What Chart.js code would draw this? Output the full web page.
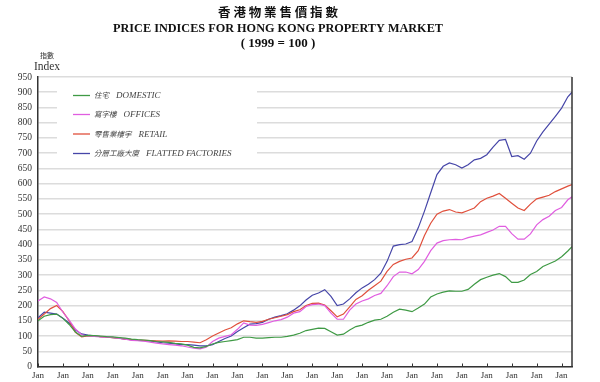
<!DOCTYPE html>
<html><head><meta charset="utf-8">
<script src="https://cdn.jsdelivr.net/npm/chart.js@4/dist/chart.umd.min.js"></script>
<style>html,body{margin:0;padding:0;background:#fff;}canvas{display:block;}</style>
</head><body>
<canvas id="c" width="600" height="382"></canvas>
<script>
// Quarterly reading points (YYYY-MM), Jan 1997 .. Jun 2018
const periods = [
"1997-01","1997-04","1997-07","1997-10","1998-01","1998-04","1998-07","1998-10",
"1999-01","1999-04","1999-07","1999-10","2000-01","2000-04","2000-07","2000-10",
"2001-01","2001-04","2001-07","2001-10","2002-01","2002-04","2002-07","2002-10",
"2003-01","2003-04","2003-07","2003-10","2004-01","2004-04","2004-07","2004-10",
"2005-01","2005-04","2005-07","2005-10","2006-01","2006-04","2006-07","2006-10",
"2007-01","2007-04","2007-07","2007-10","2008-01","2008-04","2008-07","2008-10",
"2009-01","2009-04","2009-07","2009-10","2010-01","2010-04","2010-07","2010-10",
"2011-01","2011-04","2011-07","2011-10","2012-01","2012-04","2012-07","2012-10",
"2013-01","2013-04","2013-07","2013-10","2014-01","2014-04","2014-07","2014-10",
"2015-01","2015-04","2015-07","2015-10","2016-01","2016-04","2016-07","2016-10",
"2017-01","2017-04","2017-07","2017-10","2018-01","2018-04","2018-06"];

const domestic = [
150,165,170,172, 158,138,113,99, 102,101,100,98, 97,95,93,90,
88,87,85,82, 81,79,76,74, 70,63,61,66, 74,79,82,85,
88,96,96,93, 93,95,96,96, 99,103,109,118, 122,126,125,114,
103,106,120,131, 136,145,152,155, 165,178,188,185, 180,192,205,228,
238,244,248,247, 247,253,270,285, 293,300,305,295, 276,276,284,302,
312,328,337,346, 360,379,393];

const offices = [
215,228,222,210, 178,152,123,104, 100,99,97,96, 96,92,90,86,
85,83,80,77, 74,72,70,68, 64,60,58,63, 82,93,99,104,
122,143,136,135, 138,144,150,154, 162,175,180,197, 203,205,200,175,
155,155,185,205, 215,222,233,240, 265,295,310,310, 304,318,345,380,
405,413,416,417, 416,423,428,432, 440,448,460,460, 436,418,418,435,
465,482,493,512, 522,547,557];

const retail = [
155,172,190,200, 180,150,112,97, 100,100,98,96, 95,93,90,88,
87,86,85,84, 83,84,83,82, 82,80,78,88, 100,110,120,127,
140,150,147,145, 148,155,160,165, 170,180,186,200, 207,208,202,183,
163,172,196,220, 232,250,265,280, 312,335,345,352, 356,380,430,470,
500,510,515,507, 504,512,520,541, 552,559,568,552, 536,520,512,533,
550,556,562,574, 583,592,597];

const factories = [
160,178,175,172, 158,143,120,107, 103,101,98,97, 95,93,90,88,
86,85,84,81, 78,77,74,72, 72,70,68,68, 72,82,92,100,
115,127,139,141, 145,155,162,167, 173,185,199,218, 234,241,252,230,
200,205,222,242, 258,270,285,306, 345,395,400,402, 410,455,510,570,
630,657,668,662, 651,662,678,683, 695,720,742,745, 689,692,680,700,
740,770,795,821, 848,885,900];

const seriesZh = ["住宅", "寫字樓", "零售業樓宇", "分層工廠大廈"];
const seriesEn = ["DOMESTIC", "OFFICES", "RETAIL", "FLATTED FACTORIES"];
const seriesColors = ["#3f9a45", "#e05ee0", "#e0503c", "#4646a8"];
const xTickLabel = "Jan";
const titleZh = "香 港 物 業 售 價 指 數";
const titleEn = "PRICE INDICES FOR HONG KONG PROPERTY MARKET";
const titleBase = "( 1999 = 100 )";
const axisZh = "指數";
const axisEn = "Index";

function monthIndex(p) {
  const [y, m] = p.split("-").map(Number);
  return (y - 1997) * 12 + (m - 1);
}
function toPoints(vals) {
  return vals.map((v, i) => ({ x: monthIndex(periods[i]), y: v }));
}
const allSeries = [domestic, offices, retail, factories];

const SERIF = "'Liberation Serif', 'Times New Roman', serif";
const CJK = "'Noto Sans CJK TC', 'Noto Sans CJK SC', sans-serif";

const decor = {
  id: "decor",
  beforeDraw(chart) {
    const ctx = chart.ctx;
    ctx.save();
    ctx.fillStyle = "#fff";
    ctx.fillRect(0, 0, chart.width, chart.height);
    ctx.restore();
  },
  beforeDatasetsDraw(chart) {
    const ctx = chart.ctx;
    const a = chart.chartArea;
    ctx.save();
    ctx.fillStyle = "#fff";
    ctx.fillRect(57, a.top + 2, 200, 84);
    const ys = [95.5, 114.5, 134, 153.5];
    chart.data.datasets.forEach((ds, i) => {
      const y = ys[i];
      ctx.strokeStyle = ds.borderColor;
      ctx.lineWidth = 1.3;
      ctx.beginPath();
      ctx.moveTo(73, y);
      ctx.lineTo(90, y);
      ctx.stroke();
      ctx.fillStyle = "#444";
      ctx.textBaseline = "middle";
      ctx.textAlign = "left";
      ctx.font = "italic 7.5px " + CJK;
      ctx.fillText(seriesZh[i], 94, y);
      const w = ctx.measureText(seriesZh[i]).width;
      ctx.font = "italic 9px " + SERIF;
      ctx.fillText(seriesEn[i], 94 + w + 7, y + 0.5);
    });
    ctx.restore();
  },
  afterDraw(chart) {
    const ctx = chart.ctx;
    const a = chart.chartArea;
    const xs = chart.scales.x;
    ctx.save();
    ctx.strokeStyle = "#333";
    ctx.lineWidth = 1.5;
    ctx.beginPath();
    ctx.moveTo(a.right, a.top);
    ctx.lineTo(a.right, a.bottom);
    ctx.stroke();
    ctx.lineWidth = 1;
    xs.ticks.forEach(t => {
      const px = Math.round(xs.getPixelForValue(t.value)) + 0.5;
      ctx.beginPath();
      ctx.moveTo(px, a.bottom);
      ctx.lineTo(px, a.bottom - 3);
      ctx.stroke();
    });
    ctx.fillStyle = "#111";
    ctx.textAlign = "center";
    ctx.textBaseline = "middle";
    ctx.font = "bold 12.5px " + CJK;
    ctx.fillText(titleZh, 278, 12.5);
    ctx.font = "bold 13px " + SERIF;
    let w = ctx.measureText(titleEn).width;
    const fs = 13 * 330 / w;
    ctx.font = "bold " + fs.toFixed(2) + "px " + SERIF;
    ctx.fillText(titleEn, 278, 28.5);
    ctx.font = "bold 13px " + SERIF;
    ctx.fillText(titleBase, 278, 44);
    ctx.fillStyle = "#333";
    ctx.font = "7px " + CJK;
    ctx.fillText(axisZh, 47, 55);
    ctx.font = "11.5px " + SERIF;
    ctx.fillText(axisEn, 47, 67);
    ctx.restore();
  }
};

new Chart(document.getElementById("c"), {
  type: "line",
  data: {
    datasets: allSeries.map((vals, i) => ({
      label: seriesZh[i] + " " + seriesEn[i],
      data: toPoints(vals),
      borderColor: seriesColors[i],
      borderWidth: 1.2,
      pointRadius: 0,
      tension: 0,
      fill: false
    }))
  },
  options: {
    responsive: false,
    animation: false,
    devicePixelRatio: 1,
    layout: { padding: { top: 77, right: 28, left: 0, bottom: 0 } },
    plugins: { legend: { display: false }, tooltip: { enabled: false }, title: { display: false } },
    scales: {
      x: {
        type: "linear",
        min: 0,
        max: 257,
        afterFit(s) { s.height = 15.5; },
        grid: { display: false, drawTicks: false, tickLength: 0 },
        border: { display: true, color: "#333", width: 1.5 },
        ticks: {
          stepSize: 12,
          includeBounds: false,
          autoSkip: false,
          maxRotation: 0,
          padding: 4,
          color: "#333",
          font: { family: SERIF, size: 9 },
          callback: (v) => (v % 12 === 0 ? xTickLabel : "")
        }
      },
      y: {
        min: 0,
        max: 950,
        afterFit(s) { s.width = 38; },
        grid: { color: "#dcdcdc", lineWidth: 1.5, drawTicks: false },
        border: { display: true, color: "#333", width: 1.5 },
        ticks: {
          stepSize: 50,
          padding: 6,
          color: "#333",
          font: { family: SERIF, size: 9.5 }
        }
      }
    }
  },
  plugins: [decor]
});
</script>
</body></html>
